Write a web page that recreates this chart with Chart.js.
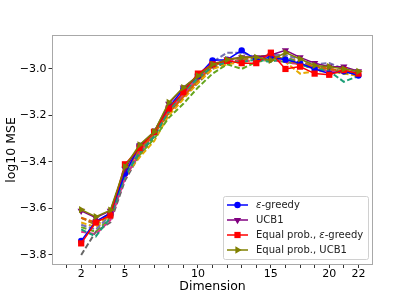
<!DOCTYPE html>
<html>
<head>
<meta charset="utf-8">
<script src="https://cdn.jsdelivr.net/npm/chart.js@4.4.0/dist/chart.umd.min.js"></script>
<style>
  html, body { margin: 0; padding: 0; background: #fff; }
</style>
</head>
<body>
<canvas id="chart" width="415" height="297"></canvas>
<script>
// dimensions at each plotted position (19 is not in the sweep)
const dimensions = [2, 3, 4, 5, 6, 7, 8, 9, 10, 11, 12, 13, 14, 15, 16, 17, 18, 20, 21, 22];
const xTickLabels = [2, 5, 10, 15, 20, 22];
const yTicks = [-3.8, -3.6, -3.4, -3.2, -3.0];

// averaged curves (with markers)
const epsGreedy = [-3.74, -3.655, -3.62, -3.45, -3.33, -3.27, -3.165, -3.086, -3.03, -2.963, -2.96, -2.92, -2.96, -2.95, -2.96, -2.975, -3.0, -3.02, -3.01, -3.028];
const ucb1 = [-3.61, -3.64, -3.61, -3.43, -3.33, -3.27, -3.15, -3.08, -3.03, -2.98, -2.96, -2.95, -2.95, -2.94, -2.92, -2.95, -2.975, -2.99, -2.99, -3.01];
const equalEps = [-3.75, -3.66, -3.63, -3.41, -3.34, -3.27, -3.17, -3.10, -3.02, -2.98, -2.965, -2.975, -2.975, -2.93, -3.0, -2.99, -3.02, -3.025, -3.005, -3.02];
const equalUcb1 = [-3.605, -3.635, -3.607, -3.42, -3.326, -3.27, -3.144, -3.08, -3.03, -2.98, -2.96, -2.95, -2.95, -2.963, -2.93, -2.957, -2.985, -2.99, -3.0, -3.01];

// single runs (dashed)
const runTeal = [-3.69, -3.72, -3.64, -3.46, -3.36, -3.29, -3.18, -3.10, -3.04, -2.99, -2.97, -2.97, -2.96, -2.97, -2.95, -2.98, -3.0, -3.01, -3.055, -3.03];
const runOrange = [-3.64, -3.66, -3.62, -3.44, -3.35, -3.28, -3.19, -3.12, -3.05, -2.99, -2.96, -2.95, -2.95, -2.94, -2.96, -2.98, -2.99, -3.0, -3.01, -3.02];
const runLavender = [-3.67, -3.69, -3.63, -3.45, -3.34, -3.27, -3.17, -3.10, -3.03, -2.97, -2.93, -2.93, -2.95, -2.94, -2.94, -2.96, -2.98, -2.975, -3.0, -3.01];
const runPink = [-3.70, -3.71, -3.65, -3.47, -3.36, -3.28, -3.18, -3.11, -3.04, -2.98, -2.96, -2.97, -2.96, -2.96, -2.97, -2.98, -3.0, -3.01, -3.01, -3.02];
const runGreen = [-3.68, -3.70, -3.64, -3.46, -3.37, -3.30, -3.21, -3.15, -3.08, -3.02, -2.98, -3.0, -2.97, -2.96, -2.97, -2.98, -3.0, -3.0, -3.02, -3.01];
const runGold = [-3.66, -3.68, -3.63, -3.46, -3.38, -3.31, -3.20, -3.13, -3.06, -3.0, -2.98, -2.97, -2.96, -2.95, -2.97, -3.02, -3.01, -3.01, -3.02, -3.03];
const runBrown = [-3.64, -3.67, -3.63, -3.45, -3.35, -3.28, -3.18, -3.11, -3.05, -2.99, -2.97, -2.96, -2.95, -2.94, -2.95, -2.97, -2.99, -3.0, -3.01, -3.02];
const runGray = [-3.80, -3.70, -3.66, -3.48, -3.37, -3.29, -3.19, -3.12, -3.06, -3.0, -2.97, -2.96, -2.95, -2.94, -2.96, -2.97, -2.99, -3.0, -3.01, -3.02];

const FONT = "'DejaVu Sans', sans-serif";

function pts(arr) {
    return arr.map((v, i) => ({ x: i, y: v }));
}

function mainLine(label, arr, color, style, radius, rotation, order) {
    return {
        label: label,
        data: pts(arr),
        borderColor: color,
        backgroundColor: color,
        borderWidth: 1.5,
        pointStyle: style,
        pointRadius: radius,
        pointRotation: rotation,
        pointBorderWidth: 0,
        pointBackgroundColor: color,
        tension: 0,
        order: order,
        inLegend: true
    };
}

function runLine(arr, color) {
    return {
        data: pts(arr),
        borderColor: color,
        borderWidth: 2,
        borderDash: [5.5, 2.5],
        pointRadius: 0,
        tension: 0,
        order: 10,
        inLegend: false
    };
}

function drawMarker(ctx, style, x, y, r, rot) {
    ctx.save();
    ctx.translate(x, y);
    ctx.rotate(rot * Math.PI / 180);
    ctx.beginPath();
    if (style === 'circle') {
        ctx.arc(0, 0, r, 0, Math.PI * 2);
    } else if (style === 'rect') {
        let s = r * Math.SQRT1_2;
        ctx.rect(-s, -s, 2 * s, 2 * s);
    } else {
        ctx.moveTo(0, -r);
        ctx.lineTo(r * 0.866, r * 0.5);
        ctx.lineTo(-r * 0.866, r * 0.5);
        ctx.closePath();
    }
    ctx.fill();
    ctx.restore();
}

// matplotlib style legend box in the lower right of the axes
const legendBox = {
    id: 'legendBox',
    afterDraw(chart) {
        const ctx = chart.ctx;
        const area = chart.chartArea;
        const items = chart.data.datasets.filter(d => d.inLegend);
        const w = 145, h = 63;
        const x0 = area.right - 5 - w, y0 = area.bottom - 6 - h;
        ctx.save();
        ctx.fillStyle = 'rgba(255,255,255,0.85)';
        ctx.strokeStyle = '#d0d0d0';
        ctx.lineWidth = 1;
        ctx.beginPath();
        ctx.roundRect(x0 + 0.5, y0 + 0.5, w, h, 2);
        ctx.fill();
        ctx.stroke();
        items.forEach((d, i) => {
            const y = y0 + 9 + i * 15;
            ctx.strokeStyle = d.borderColor;
            ctx.lineWidth = 1.5;
            ctx.beginPath();
            ctx.moveTo(x0 + 4, y);
            ctx.lineTo(x0 + 25, y);
            ctx.stroke();
            ctx.fillStyle = d.borderColor;
            drawMarker(ctx, d.pointStyle, x0 + 14.5, y, d.pointRadius, d.pointRotation);
            // label, with the epsilon in italics
            let tx = x0 + 33;
            ctx.fillStyle = '#222';
            ctx.textBaseline = 'middle';
            d.label.split(/(ε)/).forEach(part => {
                if (!part) return;
                ctx.font = (part === 'ε' ? 'italic ' : '') + '10px ' + FONT;
                ctx.fillText(part, tx, y);
                tx += ctx.measureText(part).width;
            });
        });
        ctx.restore();
    }
};

// grey frame on all four sides of the axes
const frame = {
    id: 'frame',
    afterDatasetsDraw(chart) {
        const a = chart.chartArea;
        const ctx = chart.ctx;
        ctx.save();
        ctx.strokeStyle = '#a8a8a8';
        ctx.lineWidth = 1;
        ctx.strokeRect(a.left + 0.5, a.top + 0.5, a.right - a.left - 1, a.bottom - a.top - 1);
        ctx.restore();
    }
};

new Chart(document.getElementById('chart'), {
    type: 'line',
    data: {
        datasets: [
            mainLine('ε-greedy', epsGreedy, '#0000ff', 'circle', 3.2, 0, 3),
            mainLine('UCB1', ucb1, '#800080', 'triangle', 4.2, 180, 2),
            mainLine('Equal prob., ε-greedy', equalEps, '#ff0000', 'rect', 4.4, 0, 1),
            mainLine('Equal prob., UCB1', equalUcb1, '#808000', 'triangle', 4.2, 90, 0),
            runLine(runTeal, '#1b9e77'),
            runLine(runOrange, '#d95f02'),
            runLine(runLavender, '#7570b3'),
            runLine(runPink, '#e7298a'),
            runLine(runGreen, '#66a61e'),
            runLine(runGold, '#e6ab02'),
            runLine(runBrown, '#a6761d'),
            runLine(runGray, '#666666')
        ]
    },
    options: {
        responsive: false,
        animation: false,
        devicePixelRatio: 1,
        layout: { padding: { top: 35, right: 42, left: 0, bottom: 0 } },
        plugins: {
            legend: { display: false },
            tooltip: { enabled: false }
        },
        scales: {
            x: {
                type: 'linear',
                min: -2,
                max: 20,
                afterBuildTicks: (scale) => {
                    let t = [];
                    for (let i = -1; i < 20; i++) t.push({ value: i });
                    scale.ticks = t;
                },
                afterFit: (scale) => { scale.height = 32; },
                grid: { drawOnChartArea: false, drawTicks: true, tickLength: 3, color: '#333' },
                border: { display: false },
                ticks: {
                    autoSkip: false,
                    maxRotation: 0,
                    padding: 0,
                    color: '#000',
                    font: { family: FONT, size: 11 },
                    callback: (v) => {
                        const d = dimensions[v];
                        return (d !== undefined && xTickLabels.includes(d)) ? String(d) : '';
                    }
                },
                title: {
                    display: true,
                    text: 'Dimension',
                    color: '#000',
                    font: { family: FONT, size: 12.5 },
                    padding: { top: 0, bottom: 3 }
                }
            },
            y: {
                type: 'linear',
                min: -3.843,
                max: -2.854,
                afterBuildTicks: (scale) => {
                    scale.ticks = yTicks.map(v => ({ value: v }));
                },
                afterFit: (scale) => { scale.width = 52; },
                grid: { drawOnChartArea: false, drawTicks: true, tickLength: 3.5, color: '#333' },
                border: { display: false },
                ticks: {
                    padding: 2,
                    color: '#000',
                    font: { family: FONT, size: 11 },
                    callback: (v) => '\u2212' + Math.abs(v).toFixed(1)
                },
                title: {
                    display: true,
                    text: 'log10 MSE',
                    color: '#000',
                    font: { family: FONT, size: 12.5 },
                    padding: { top: 4.5, bottom: 0 }
                }
            }
        }
    },
    plugins: [frame, legendBox]
});
</script>
</body>
</html>
